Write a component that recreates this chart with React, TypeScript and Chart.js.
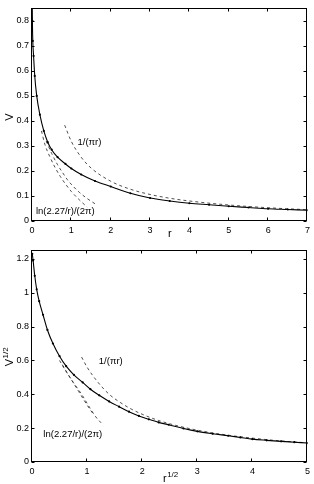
import React, { useEffect, useRef } from 'react';
import { Chart, registerables } from 'chart.js';
Chart.register(...registerables);

// ---------- Top panel: V vs r ----------
const topR = [0.004, 0.01, 0.02, 0.04, 0.07, 0.12, 0.2, 0.3, 0.4, 0.5, 0.65, 0.85, 1.0, 1.25, 1.6, 2.0, 2.5, 3.0, 3.5, 4.0, 4.5, 5.0, 5.5, 6.0, 6.5, 7.0];
const topV = [0.9, 0.8, 0.72, 0.66, 0.58, 0.5, 0.425, 0.36, 0.315, 0.285, 0.255, 0.228, 0.21, 0.186, 0.16, 0.138, 0.111, 0.092, 0.08, 0.071, 0.065, 0.059, 0.054, 0.049, 0.046, 0.043];
const topPiR = [0.83, 1.0, 1.25, 1.5, 2.0, 2.5, 3.0, 3.5, 4.0, 5.0, 6.0, 7.0];
const topPiV = [0.383, 0.318, 0.255, 0.212, 0.159, 0.127, 0.106, 0.091, 0.08, 0.064, 0.053, 0.045];
const topLnAR = [0.24, 0.33, 0.45, 0.6, 0.72, 0.85, 1.0, 1.2, 1.4];
const topLnAV = [0.36, 0.305, 0.258, 0.21, 0.178, 0.148, 0.118, 0.085, 0.056];
const topLnBR = [0.36, 0.5, 0.65, 0.8, 0.9, 1.05, 1.2, 1.4, 1.64];
const topLnBV = [0.32, 0.27, 0.225, 0.188, 0.165, 0.138, 0.115, 0.09, 0.065];
const topXTicks = [0, 1, 2, 3, 4, 5, 6, 7];
const topYTicks = [0, 0.1, 0.2, 0.3, 0.4, 0.5, 0.6, 0.7, 0.8];

// ---------- Bottom panel: V^1/2 vs r^1/2 ----------
const botS = [0.005, 0.02, 0.05, 0.085, 0.13, 0.2, 0.28, 0.38, 0.5, 0.62, 0.76, 0.92, 1.06, 1.22, 1.4, 1.58, 1.76, 1.94, 2.12, 2.3, 2.48, 2.75, 3.0, 3.28, 3.56, 3.78, 4.0, 4.26, 4.52, 4.76, 5.0];
const botY = [1.23, 1.19, 1.1, 1.02, 0.95, 0.87, 0.78, 0.7, 0.625, 0.566, 0.515, 0.47, 0.43, 0.394, 0.358, 0.327, 0.297, 0.272, 0.252, 0.234, 0.22, 0.198, 0.181, 0.167, 0.155, 0.145, 0.135, 0.128, 0.122, 0.117, 0.112];
const botPiS = [0.9, 1.0, 1.2, 1.4, 1.6, 1.8, 2.0, 2.3, 2.6, 3.0, 3.5, 4.0, 4.5, 5.0];
const botPiY = [0.62, 0.56, 0.47, 0.4, 0.352, 0.313, 0.282, 0.245, 0.217, 0.188, 0.161, 0.141, 0.125, 0.113];
const botLnAS = [0.5, 0.6, 0.75, 0.9, 1.05, 1.15, 1.28];
const botLnAY = [0.6, 0.545, 0.47, 0.4, 0.32, 0.27, 0.222];
const botLnBS = [0.55, 0.65, 0.75, 0.85, 0.95, 1.05, 1.1];
const botLnBY = [0.575, 0.52, 0.468, 0.415, 0.362, 0.312, 0.289];
const botXTicks = [0, 1, 2, 3, 4, 5];
const botYTicks = [0, 0.2, 0.4, 0.6, 0.8, 1, 1.2];

// annotation texts (data coordinates)
const topNotes = [
  { text: '1/(\u03c0r)', x: 1.46, y: 0.314, align: 'center' },
  { text: 'ln(2.27/r)/(2\u03c0)', x: 0.1, y: 0.037, align: 'left' },
];
const botNotes = [
  { text: '1/(\u03c0r)', x: 1.43, y: 0.593, align: 'center' },
  { text: 'ln(2.27/r)/(2\u03c0)', x: 0.74, y: 0.165, align: 'center' },
];

const FONT = '"Liberation Sans", Arial, Helvetica, sans-serif';

const pts = (xs: number[], ys: number[]) => xs.map((x, i) => ({ x, y: ys[i] }));

const fmt = (v: number) => String(Number(v.toFixed(2)));

function solidSet(data: any) {
  return {
    data,
    showLine: true,
    borderColor: '#000',
    borderWidth: 1.1,
    pointRadius: 1.1,
    pointBackgroundColor: '#000',
    pointBorderWidth: 0,
    cubicInterpolationMode: 'monotone',
    order: 0,
  };
}
function dashSet(data: any) {
  return {
    data,
    showLine: true,
    borderColor: '#222',
    borderWidth: 0.8,
    borderDash: [3, 3],
    pointRadius: 0,
    cubicInterpolationMode: 'monotone',
    order: 1,
  };
}

type Cfg = {
  datasets: any[];
  xMax: number;
  yMax: number;
  xTicks: number[];
  yTicks: number[];
  padTop: number;
  xHeight: number;
  notes: any[];
  yTitle: { main: string; sup: string; cx: number; cy: number };
  xTitle: { main: string; sup: string; x: number; y: number };
};

function makeChart(canvas: HTMLCanvasElement, c: Cfg) {
  const framePlugin = {
    id: 'frameTicks',
    afterDraw(chart: any) {
      const { ctx, chartArea: a, scales } = chart;
      const xs = scales.x, ys = scales.y;
      ctx.save();
      ctx.strokeStyle = '#000';
      ctx.lineWidth = 1;
      const L = Math.round(a.left) - 0.5;
      const R = Math.round(a.right) - 0.5;
      const T = Math.round(a.top) + 0.5;
      const B = Math.round(a.bottom) - 0.5;
      ctx.strokeRect(L, T, R - L, B - T);
      ctx.beginPath();
      const tl = 3;
      c.xTicks.forEach((v) => {
        const px = Math.round(xs.getPixelForValue(v)) - 0.5;
        ctx.moveTo(px, B); ctx.lineTo(px, B - tl);
        ctx.moveTo(px, T); ctx.lineTo(px, T + tl);
      });
      c.yTicks.forEach((v) => {
        const py = Math.round(ys.getPixelForValue(v)) + 0.5;
        ctx.moveTo(L, py); ctx.lineTo(L + tl, py);
        ctx.moveTo(R, py); ctx.lineTo(R - tl, py);
      });
      ctx.stroke();

      // annotations
      ctx.fillStyle = '#000';
      ctx.font = `9.5px ${FONT}`;
      ctx.textBaseline = 'middle';
      c.notes.forEach((n) => {
        ctx.textAlign = n.align;
        ctx.fillText(n.text, xs.getPixelForValue(n.x), ys.getPixelForValue(n.y));
      });

      // y title (rotated)
      ctx.save();
      ctx.translate(c.yTitle.cx, c.yTitle.cy);
      ctx.rotate(-Math.PI / 2);
      ctx.textBaseline = 'alphabetic';
      ctx.textAlign = 'left';
      ctx.font = `11px ${FONT}`;
      const wMain = ctx.measureText(c.yTitle.main).width;
      ctx.font = `8px ${FONT}`;
      const wSup = c.yTitle.sup ? ctx.measureText(c.yTitle.sup).width : 0;
      const start = -(wMain + wSup) / 2;
      ctx.font = `11px ${FONT}`;
      ctx.fillText(c.yTitle.main, start, 4);
      if (c.yTitle.sup) {
        ctx.font = `8px ${FONT}`;
        ctx.fillText(c.yTitle.sup, start + wMain + 0.5, -1);
      }
      ctx.restore();

      // x title
      ctx.textBaseline = 'alphabetic';
      ctx.textAlign = 'left';
      ctx.font = `11px ${FONT}`;
      const xw = ctx.measureText(c.xTitle.main).width;
      ctx.fillText(c.xTitle.main, c.xTitle.x, c.xTitle.y);
      if (c.xTitle.sup) {
        ctx.font = `8px ${FONT}`;
        ctx.fillText(c.xTitle.sup, c.xTitle.x + xw + 0.5, c.xTitle.y - 5);
      }
      ctx.restore();
    },
  };

  return new Chart(canvas, {
    type: 'scatter',
    data: { datasets: c.datasets },
    options: {
      animation: false,
      responsive: false,
      devicePixelRatio: 1,
      layout: { padding: { top: c.padTop, right: 3, left: 0, bottom: 0 } },
      plugins: { legend: { display: false }, tooltip: { enabled: false } },
      scales: {
        x: {
          type: 'linear',
          min: 0,
          max: c.xMax,
          grid: { display: false, drawTicks: false },
          border: { display: false },
          afterFit: (s: any) => { s.height = c.xHeight; },
          afterBuildTicks: (s: any) => { s.ticks = c.xTicks.map((v) => ({ value: v })); },
          ticks: {
            padding: 4,
            color: '#000',
            font: { family: FONT, size: 9 },
            maxRotation: 0,
            callback: (v: any) => fmt(Number(v)),
          },
        },
        y: {
          type: 'linear',
          min: 0,
          max: c.yMax,
          grid: { display: false, drawTicks: false },
          border: { display: false },
          afterFit: (s: any) => { s.width = 32; },
          afterBuildTicks: (s: any) => { s.ticks = c.yTicks.map((v) => ({ value: v })); },
          ticks: {
            padding: 3,
            color: '#000',
            font: { family: FONT, size: 9 },
            callback: (v: any) => fmt(Number(v)),
          },
        },
      },
    } as any,
    plugins: [framePlugin],
  } as any);
}

export default function App() {
  const topRef = useRef<HTMLCanvasElement>(null);
  const botRef = useRef<HTMLCanvasElement>(null);

  useEffect(() => {
    const top = makeChart(topRef.current!, {
      datasets: [
        solidSet(pts(topR, topV)),
        dashSet(pts(topPiR, topPiV)),
        dashSet(pts(topLnAR, topLnAV)),
        dashSet(pts(topLnBR, topLnBV)),
      ],
      xMax: 7,
      yMax: 0.85,
      xTicks: topXTicks,
      yTicks: topYTicks,
      padTop: 2,
      xHeight: 21,
      notes: topNotes,
      yTitle: { main: 'V', sup: '', cx: 8.5, cy: 117 },
      xTitle: { main: 'r', sup: '', x: 168, y: 237 },
    });
    const bot = makeChart(botRef.current!, {
      datasets: [
        solidSet(pts(botS, botY)),
        dashSet(pts(botPiS, botPiY)),
        dashSet(pts(botLnAS, botLnAY)),
        dashSet(pts(botLnBS, botLnBY)),
      ],
      xMax: 5,
      yMax: 1.25,
      xTicks: botXTicks,
      yTicks: botYTicks,
      padTop: 1,
      xHeight: 22,
      notes: botNotes,
      yTitle: { main: 'V', sup: '1/2', cx: 8.5, cy: 115 },
      xTitle: { main: 'r', sup: '1/2', x: 163, y: 240 },
    });
    return () => { top.destroy(); bot.destroy(); };
  }, []);

  return (
    <div style={{ position: 'absolute', left: 0, top: 0, width: 314, height: 484, background: '#fff' }}>
      <canvas ref={topRef} width={314} height={242} style={{ display: 'block', width: 314, height: 242 }} />
      <canvas ref={botRef} width={314} height={242} style={{ display: 'block', width: 314, height: 242 }} />
    </div>
  );
}
